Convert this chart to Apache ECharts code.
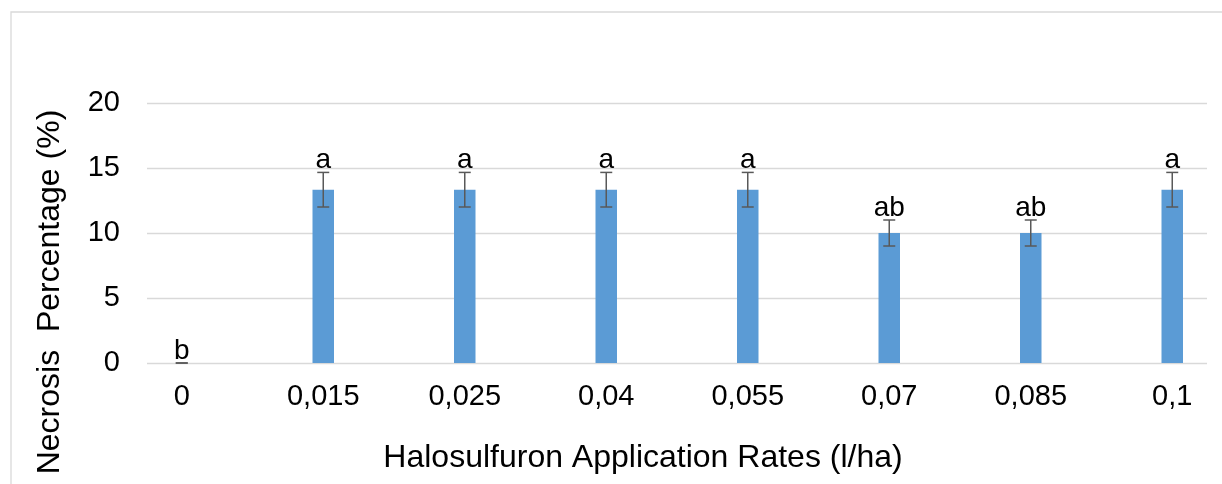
<!DOCTYPE html>
<html>
<head>
<meta charset="utf-8">
<script src="https://cdn.jsdelivr.net/npm/echarts@6/dist/echarts.min.js"></script>
<style>
html,body{margin:0;padding:0;background:#fff;}
#chart{width:1222px;height:484px;}
</style>
</head>
<body>
<div id="chart"></div>
<script>
const categories = ['0', '0,015', '0,025', '0,04', '0,055', '0,07', '0,085', '0,1'];
const means = [0, 13.33, 13.33, 13.33, 13.33, 10, 10, 13.33];
const errors = [0, 1.33, 1.33, 1.33, 1.33, 1, 1, 1.33];
const letters = ['b', 'a', 'a', 'a', 'a', 'ab', 'ab', 'a'];
const yMin = 0, yMax = 20, yInterval = 5;
const xTitle = 'Halosulfuron Application Rates (l/ha)';
const yTitle = 'Necrosis  Percentage (%)';

const FONT = "'Liberation Sans', Arial, sans-serif";
const chart = echarts.init(document.getElementById('chart'), null, {renderer: 'canvas'});

const errData = means.map((m, i) => [i, m, errors[i]]);

chart.setOption({
  animation: false,
  backgroundColor: '#fff',
  grid: [
    {left: 147, width: 1060, top: 103, height: 260, outerBoundsMode: 'none', containLabel: false},
    {left: 111, width: 1132, top: 103, height: 260, outerBoundsMode: 'none', containLabel: false}
  ],
  xAxis: [
    {gridIndex: 0, type: 'value', show: false, min: 0, max: 1},
    {gridIndex: 1, type: 'category', data: categories, boundaryGap: true,
     axisLine: {show: false}, axisTick: {show: false}, splitLine: {show: false},
     axisLabel: {fontSize: 29, fontFamily: FONT, color: '#000', margin: 19, interval: 0}}
  ],
  yAxis: [
    {gridIndex: 0, type: 'value', min: yMin, max: yMax, interval: yInterval,
     axisLine: {show: false}, axisTick: {show: false},
     splitLine: {show: true, lineStyle: {color: '#d9d9d9', width: 1.3}},
     axisLabel: {fontSize: 29, fontFamily: FONT, color: '#000', margin: 27}},
    {gridIndex: 1, type: 'value', min: yMin, max: yMax, interval: yInterval, show: false,
     splitLine: {show: false}}
  ],
  graphic: [
    {type: 'rect', shape: {x: 11, y: 12, width: 1400, height: 700}, silent: true,
     style: {fill: 'none', stroke: '#d9d9d9', lineWidth: 1.3}},
    {type: 'text', x: 643, y: 458,
     style: {text: xTitle, font: '32px ' + FONT, fill: '#000', textAlign: 'center', textVerticalAlign: 'middle', align: 'center', verticalAlign: 'middle'}},
    {type: 'text', x: 50, y: 292, rotation: Math.PI / 2,
     style: {text: yTitle, font: '32px ' + FONT, fill: '#000', textAlign: 'center', textVerticalAlign: 'middle', align: 'center', verticalAlign: 'middle'}}
  ],
  series: [
    {type: 'bar', xAxisIndex: 1, yAxisIndex: 1, data: means, barWidth: 21.5,
     itemStyle: {color: '#5B9BD5'}},
    {type: 'custom', xAxisIndex: 1, yAxisIndex: 1, data: errData, z: 5,
     renderItem: function (params, api) {
       const x = api.value(0), m = api.value(1), e = api.value(2);
       const top = api.coord([x, m + e]);
       const bot = api.coord([x, m - e]);
       const hw = 6;
       const ls = {stroke: '#595959', lineWidth: 1.5};
       return {
         type: 'group',
         children: [
           {type: 'line', shape: {x1: top[0], y1: top[1], x2: bot[0], y2: bot[1]}, style: ls},
           {type: 'line', shape: {x1: top[0] - hw, y1: top[1], x2: top[0] + hw, y2: top[1]}, style: ls},
           {type: 'line', shape: {x1: bot[0] - hw, y1: bot[1], x2: bot[0] + hw, y2: bot[1]}, style: ls},
           {type: 'text', x: top[0], y: top[1] + 2,
            style: {text: letters[params.dataIndex], font: '28px ' + FONT, fill: '#000',
                    textAlign: 'center', textVerticalAlign: 'bottom', align: 'center', verticalAlign: 'bottom'}}
         ]
       };
     }}
  ]
});
</script>
</body>
</html>
